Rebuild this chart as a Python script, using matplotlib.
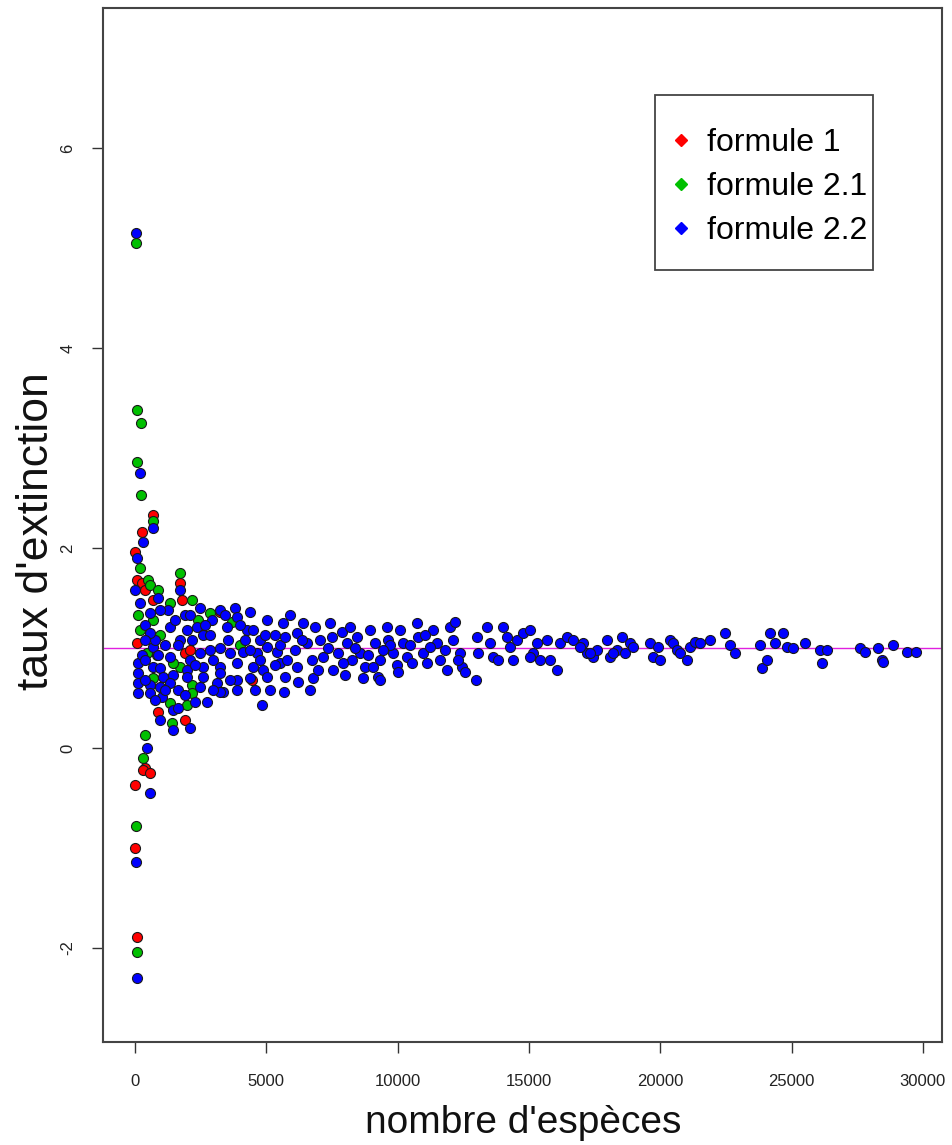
import matplotlib
matplotlib.use("Agg")
import matplotlib.pyplot as plt
from matplotlib.lines import Line2D
from matplotlib.patches import Rectangle

plt.rcParams['font.family'] = ['Liberation Sans', 'DejaVu Sans']

# ---- data: formule 2.2 (blue, drawn on top) ----
especes_f22 = [20, 190, 685, 305, 76, 10, 876, 1714, 1257, 190, 571, 2475, 2932, 3237, 3808, 3884,
               1333, 1980, 2361, 2589, 3503, 4265, 4493, 5027, 685, 1333, 2475, 2856, 3237, 3618,
               4113, 4646, 5027, 5407, 114, 685, 952, 1980, 2589, 3237, 3884, 4493, 4874, 5522,
               114, 1066, 1447, 1980, 2589, 3237, 3884, 4379, 5027, 114, 571, 952, 1333, 2475,
               3123, 3351, 3884, 114, 571, 1028, 2285, 2742, 3237, 1447, 1637, 952, 1447, 2094,
               457, 571, 38, 76, 381, 762, 1142, 1714, 2094, 2970, 4189, 4760, 5331, 267, 1904, 571,
               381, 381, 381, 876, 1142, 1637, 1637, 2171, 2285, 2856, 2970, 3541, 3618, 3998,
               4379, 4760, 5141, 5331, 952, 1523, 2094, 2666, 3427, 4379, 4950, 5522, 762, 1904,
               4570, 4836,
               5636, 5712, 5788, 5712, 5680, 6169, 6093, 6169, 6207, 6397, 6550, 6740, 6778, 6854,
               7045, 7159, 7426, 7502, 7540, 7730, 7883, 8073, 8187, 8263, 8454, 8568, 8682, 8758,
               8949, 9139, 9253, 9330, 9596, 9634, 9825, 9977, 10091, 10205, 10358, 10548, 10739,
               10777, 10967, 11119, 11348, 11500, 11614, 11881, 11995, 12109, 12376, 12452,
               7921, 9063, 9330, 9710, 11234, 12186, 12566, 6359, 6969, 7349, 7997, 8378, 8873,
               9444, 10015, 10472, 11043, 11805, 12300, 5902, 6664,
               12985, 13023, 13050, 13404, 13518, 13633, 13823, 14013, 14166, 14280, 14394, 14547,
               14775, 15042, 15156, 15308, 15422, 15689, 15803, 16070, 16184, 16451, 16679, 17060,
               17212, 17441, 17593, 17974, 18088, 18355, 15042, 16946, 17326, 18202,
               18545, 18659, 18850, 18964, 19611, 19725, 19916, 19992, 20373, 20487, 20639, 20754,
               21020, 21134, 21325, 21515, 21896, 22467, 22658, 22848, 23800, 23876, 24067, 24181,
               24371, 24676, 24828, 25057, 25514, 26085, 26161, 26351, 27608, 27798, 28293, 28446,
               28484, 28865, 29400, 29750]
taux_f22 = [5.15, 2.75, 2.20, 2.06, 1.90, 1.58, 1.50, 1.58, 1.38, 1.45, 1.35, 1.40, 1.28, 1.38, 1.40, 1.31,
            1.21, 1.18, 1.21, 1.13, 1.21, 1.18, 1.18, 1.28, 1.01, 0.91, 0.95, 0.98, 1.00, 0.95,
            0.96, 0.95, 1.01, 0.96, 0.85, 0.81, 0.80, 0.78, 0.81, 0.81, 0.85, 0.81, 0.78, 0.85,
            0.75, 0.71, 0.73, 0.71, 0.71, 0.75, 0.68, 0.70, 0.71, 0.65, 0.63, 0.61, 0.65, 0.61,
            0.65, 0.56, 0.58, 0.55, 0.55, 0.51, 0.46, 0.46, 0.56, 0.38, 0.40, 0.28, 0.18, 0.20,
            0.00, -0.45, -1.14, -2.30, 1.23, 1.08, 1.03, 1.08, 0.88, 0.88, 1.08, 0.88, 1.13, 0.93, 1.33, 1.15,
            1.08, 0.88, 0.68, 0.93, 0.58, 1.03, 0.58, 1.08, 0.83, 1.13, 0.58, 1.08, 0.68, 1.23,
            0.98, 1.08, 0.58, 0.83, 1.38, 1.28, 1.33, 1.23, 1.33, 1.36, 1.13, 1.03, 0.48, 0.53,
            0.58, 0.43,
            1.25, 1.11, 0.88, 0.71, 0.56, 1.15, 0.98, 0.81, 0.66, 1.25, 1.05, 0.88, 0.70, 1.21,
            1.08, 0.91, 1.25, 1.11, 0.78, 0.95, 1.16, 1.05, 1.21, 0.88, 1.11, 0.95, 0.70, 0.81,
            1.18, 1.05, 0.71, 0.88, 1.21, 1.08, 0.95, 0.83, 1.18, 1.05, 0.91, 0.85, 1.25,
            1.11, 0.95, 0.85, 1.18, 1.05, 0.88, 0.78, 1.21, 1.08, 0.95, 0.81,
            0.85, 0.81, 0.68, 1.03, 1.01, 1.26, 0.76, 1.08, 0.78, 1.00, 0.73, 1.00, 0.93,
            0.98, 0.76, 1.03, 1.13, 0.98, 0.88, 1.33, 0.58,
            0.68, 1.11, 0.95, 1.21, 1.05, 0.91, 0.88, 1.21, 1.11, 1.01, 0.88, 1.08,
            1.15, 1.18, 0.95, 1.05, 0.88, 1.08, 0.88, 0.78, 1.05, 1.11, 1.08, 1.05,
            0.95, 0.91, 0.98, 1.08, 0.91, 0.98, 0.91, 1.01, 0.95, 0.95,
            1.11, 0.95, 1.05, 1.01, 1.05, 0.91, 1.01, 0.88, 1.08, 1.05, 0.98, 0.95,
            0.88, 1.01, 1.06, 1.05, 1.08, 1.15, 1.03, 0.95, 1.03, 0.80, 0.88, 1.15,
            1.05, 1.15, 1.01, 1.00, 1.05, 0.98, 0.85, 0.98, 1.00, 0.96, 1.00, 0.88,
            0.86, 1.03, 0.96, 0.96]

# ---- data: formule 1 (red) ----
especes_f1 = [685, 267, 10, 76, 267, 381, 685, 1714, 1790, 76, 1904, 2094, 4455, 876, 1904,
              381, 305, 10, 10, 76, 3237, 571]
taux_f1 = [2.33, 2.16, 1.96, 1.68, 1.65, 1.58, 1.48, 1.65, 1.48, 1.05, 0.95, 0.98, 0.68, 0.36, 0.28,
           -0.20, -0.22, -0.37, -1.00, -1.89, 1.36, -0.25]

# ---- data: formule 2.1 (green) ----
especes_f21 = [20, 76, 228, 76, 228, 685, 190, 495, 571, 876, 1714, 1333, 114, 685, 2171, 2399,
               2856, 952, 190, 457, 838, 1714, 1447, 685, 2171, 2171, 1333, 1980, 1409, 381, 305,
               38, 76, 3694, 3998]
taux_f21 = [5.05, 3.38, 3.25, 2.86, 2.53, 2.27, 1.80, 1.68, 1.63, 1.58, 1.75, 1.45, 1.33, 1.28, 1.48, 1.28,
            1.35, 1.13, 1.18, 0.95, 0.93, 0.81, 0.85, 0.70, 0.63, 0.55, 0.45, 0.43, 0.25, 0.13, -0.10,
            -0.78, -2.04, 1.26, 1.03]

x_ticks = [0, 5000, 10000, 15000, 20000, 25000, 30000]
y_ticks = [-2, 0, 2, 4, 6]
y_tick_labels = ["-2", "0", "2", "4", "6"]
ligne_ref = 1.0
legend_labels = ["formule 1", "formule 2.1", "formule 2.2"]
couleurs = ["#ff0000", "#00c000", "#0000ff"]

W, H = 952, 1145
fig = plt.figure(figsize=(W / 100, H / 100), dpi=100)
ax = fig.add_axes([103 / W, 1 - 1042 / H, 839 / W, 1034 / H])

ax.axhline(ligne_ref, color="#e020e0", lw=1.0, zorder=1)
kw = dict(s=52, edgecolors="#1a1a1a", linewidths=0.8, zorder=3)
ax.scatter(especes_f1, taux_f1, c=couleurs[0], **kw)
ax.scatter(especes_f21, taux_f21, c=couleurs[1], **kw)
ax.scatter(especes_f22, taux_f22, c=couleurs[2], **kw)

ax.set_xlim(-1219, 30731)
ax.set_ylim(-2.94, 7.40)
ax.set_xticks(x_ticks)
ax.set_xticklabels([str(v) for v in x_ticks])
ax.set_yticks(y_ticks)
ax.set_yticklabels(y_tick_labels)
ax.tick_params(axis='both', direction='out', length=8, width=1.0, color="#333333",
               labelsize=12, labelcolor="#222222")
ax.tick_params(axis='x', pad=15)
ax.tick_params(axis='y', pad=12)
for lab in ax.get_yticklabels():
    lab.set_rotation(90)
    lab.set_va('center')
    lab.set_ha('right')
for sp in ax.spines.values():
    sp.set_color("#444444")
    sp.set_linewidth(1.5)

fig.text(523 / W, 1 - 1133 / H, "nombre d'espèces", fontsize=28, ha='center', va='baseline',
         color="#111111")
fig.text(48 / W, 1 - 531 / H, "taux d'extinction", fontsize=32, ha='center', va='baseline',
         rotation=90, rotation_mode='anchor', color="#111111")

# legend
handles = [Line2D([], [], marker='D', ls='none', color=c, markersize=6) for c in couleurs]
fig.legend(handles, legend_labels, loc='upper left', bbox_to_anchor=(670 / W, 1 - 128 / H),
           frameon=False, fontsize=23, handlelength=0.7, handletextpad=0.45,
           labelspacing=0.44, borderpad=0.0, borderaxespad=0.0)
fig.patches.append(Rectangle((655 / W, 1 - 270 / H), 218 / W, 175 / H, transform=fig.transFigure,
                             fill=False, edgecolor="#444444", lw=1.3))

fig.savefig("out.png", dpi=100)
